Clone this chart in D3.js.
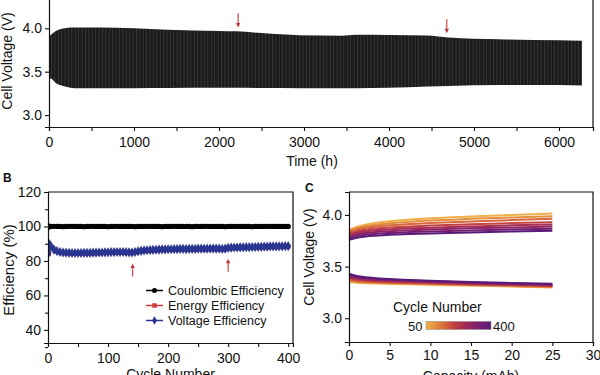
<!DOCTYPE html>
<html><head><meta charset="utf-8">
<script src="https://cdn.jsdelivr.net/npm/d3@7"></script>
<style>
body{margin:0;background:#fff}
svg{display:block}
text{font-family:"Liberation Sans",Arial,Helvetica,sans-serif;fill:#111}
</style>
</head><body>
<svg id="chart" width="600" height="375"></svg>
<script>
// ---------- Panel A: cell voltage vs time (envelope of the cycling band) ----------
const timeH   = [0, 15, 40, 80, 130, 200, 300, 600, 1000, 1400, 2000, 2200, 2500, 2950, 3450, 3600, 4000, 4450, 4700, 5300, 6000, 6270];
const vUpper  = [3.95, 3.92, 3.94, 3.97, 3.99, 4.005, 4.01, 4.01, 4.0, 3.985, 3.97, 3.965, 3.945, 3.92, 3.915, 3.925, 3.923, 3.918, 3.895, 3.875, 3.862, 3.857];
const vLower  = [3.36, 3.42, 3.41, 3.37, 3.345, 3.325, 3.31, 3.31, 3.31, 3.312, 3.315, 3.315, 3.312, 3.31, 3.31, 3.31, 3.315, 3.33, 3.335, 3.345, 3.345, 3.34];
const arrowsA = [2225, 4680];
const ticksAx = [0, 1000, 2000, 3000, 4000, 5000, 6000];
const ticksAy = [3.0, 3.5, 4.0];

// ---------- Panel B: efficiencies vs cycle number ----------
const cycles = [1,2,3,5,10,15,20,25,30,35,40,45,50,55,60,65,70,75,80,85,90,95,100,105,110,115,120,125,130,135,140,145,150,155,160,165,170,175,180,185,190,195,200,205,210,215,220,225,230,235,240,245,250,255,260,265,270,275,280,285,290,295,300,305,310,315,320,325,330,335,340,345,350,355,360,365,370,375,380,385,390,395,400];
const coulombicEff = [99.6,100.1,100.0,100.0,100.1,100.0,100.0,99.9,100.0,100.0,100.1,100.0,100.0,100.0,99.9,100.0,100.0,100.1,100.0,100.0,100.0,100.0,99.9,100.0,100.0,100.1,100.0,100.0,100.0,100.0,100.0,99.9,100.0,100.0,100.0,100.1,100.0,100.0,100.0,100.0,99.9,100.0,100.0,100.0,100.1,100.0,100.0,100.0,100.0,100.0,99.9,100.0,100.0,100.0,100.0,100.1,100.0,100.0,100.0,100.0,100.0,99.9,100.0,100.0,100.0,100.1,100.0,100.0,100.0,100.0,99.9,100.0,100.0,100.0,100.0,100.1,100.0,100.0,100.0,100.0,100.0,100.0,100.0];
const energyEff = [84.2,89.5,89.0,88.2,86.4,85.5,85.0,84.7,84.6,84.5,84.4,84.4,84.4,84.4,84.5,84.5,84.5,84.6,84.6,84.7,84.7,84.8,84.8,84.9,84.9,85.0,85.0,85.0,84.9,84.8,84.7,85.0,85.4,85.7,85.9,86.0,86.1,86.2,86.3,86.4,86.5,86.5,86.6,86.6,86.7,86.7,86.8,86.8,86.7,86.8,86.8,86.8,86.9,86.9,86.9,86.9,87.0,87.0,87.0,86.9,86.8,86.9,87.4,87.5,87.6,87.6,87.7,87.7,87.8,87.8,87.9,87.9,88.0,88.0,88.1,88.1,88.2,88.2,88.2,88.3,88.3,88.4,88.4];
const voltageEff = [84.5,89.8,89.2,88.4,86.6,85.7,85.2,84.9,84.8,84.7,84.6,84.6,84.6,84.6,84.7,84.7,84.7,84.8,84.8,84.9,84.9,85.0,85.0,85.1,85.1,85.2,85.2,85.2,85.1,85.0,84.9,85.2,85.6,85.9,86.1,86.2,86.3,86.4,86.5,86.6,86.7,86.7,86.8,86.8,86.9,86.9,87.0,87.0,86.9,87.0,87.0,87.0,87.1,87.1,87.1,87.1,87.2,87.2,87.2,87.1,87.0,87.1,87.6,87.7,87.8,87.8,87.9,87.9,88.0,88.0,88.1,88.1,88.2,88.2,88.3,88.3,88.4,88.4,88.4,88.5,88.5,88.6,88.6];
const seriesNamesB = ["Coulombic Efficiency", "Energy Efficiency", "Voltage Efficiency"];
const arrowsB = [141, 300];
const ticksBx = [0, 100, 200, 300, 400];
const ticksBy = [40, 60, 80, 100, 120];

// ---------- Panel C: voltage profiles vs capacity ----------
const capacity = [0, 1, 2, 3, 5, 7.5, 10, 15, 20, 25];
const profileCycles = [50, 100, 150, 200, 250, 300, 350, 400];
const chargeV = [
  [3.855, 3.885, 3.905, 3.92, 3.94, 3.955, 3.968, 3.985, 4.0, 4.013],
  [3.845, 3.872, 3.89, 3.903, 3.92, 3.935, 3.946, 3.962, 3.976, 3.988],
  [3.835, 3.86, 3.875, 3.886, 3.9, 3.913, 3.922, 3.937, 3.95, 3.962],
  [3.82, 3.843, 3.856, 3.866, 3.878, 3.889, 3.897, 3.91, 3.921, 3.93],
  [3.805, 3.828, 3.84, 3.849, 3.86, 3.87, 3.877, 3.889, 3.899, 3.908],
  [3.79, 3.812, 3.824, 3.833, 3.843, 3.852, 3.859, 3.87, 3.879, 3.887],
  [3.775, 3.797, 3.808, 3.816, 3.826, 3.834, 3.84, 3.85, 3.859, 3.867],
  [3.76, 3.78, 3.79, 3.798, 3.807, 3.815, 3.821, 3.831, 3.84, 3.848]
];
const dischargeV = [
  [3.35, 3.343, 3.339, 3.336, 3.332, 3.328, 3.324, 3.316, 3.307, 3.298],
  [3.36, 3.351, 3.346, 3.343, 3.338, 3.333, 3.329, 3.32, 3.311, 3.303],
  [3.372, 3.36, 3.354, 3.35, 3.345, 3.339, 3.334, 3.325, 3.316, 3.308],
  [3.385, 3.37, 3.363, 3.358, 3.352, 3.346, 3.34, 3.33, 3.321, 3.313],
  [3.397, 3.38, 3.372, 3.366, 3.359, 3.352, 3.346, 3.335, 3.326, 3.318],
  [3.408, 3.39, 3.381, 3.374, 3.366, 3.358, 3.352, 3.34, 3.331, 3.323],
  [3.419, 3.399, 3.389, 3.382, 3.373, 3.365, 3.358, 3.346, 3.336, 3.328],
  [3.43, 3.408, 3.397, 3.39, 3.38, 3.371, 3.364, 3.351, 3.341, 3.333]
];
const colorStops = ["#efb04a", "#e0803a", "#c9473c", "#a42b58", "#7d1f6f", "#5a1a78"];
const ticksCx = [0, 5, 10, 15, 20, 25, 30];
const ticksCy = [3.0, 3.5, 4.0];

// =================== drawing ===================
const svg = d3.select("#chart");
const FONT = 14;
const defs = svg.append("defs");

function styleAxis(g){
  g.selectAll(".domain").attr("stroke", "#111").attr("stroke-width", 1.2);
  g.selectAll(".tick line").attr("stroke", "#111").attr("stroke-width", 1.1);
  g.selectAll(".tick text").attr("font-size", FONT).attr("fill", "#111")
    .attr("font-family", '"Liberation Sans",Arial,sans-serif');
}
function frame(x0, y0, x1, y1){
  svg.append("path")
    .attr("d", `M${x0},${y0}H${x1}V${y1}`)
    .attr("fill", "none").attr("stroke", "#111").attr("stroke-width", 1.2);
}
function arrow(x, yTail, yTip){
  const dir = yTip > yTail ? 1 : -1;
  svg.append("line").attr("x1", x).attr("x2", x).attr("y1", yTail).attr("y2", yTip - dir*3)
    .attr("stroke", "#c0393b").attr("stroke-width", 1.1);
  svg.append("path")
    .attr("d", `M${x-2.2},${yTip - dir*4.5}L${x+2.2},${yTip - dir*4.5}L${x},${yTip}Z`)
    .attr("fill", "#c0393b");
}

// ---------- Panel A ----------
{
  const L = 49, R = 593, T = -10, B = 127;
  const x = d3.scaleLinear().domain([0, 6400]).range([L, R]);
  const y = d3.scaleLinear().domain([2.862, 4.442]).range([B, T]);

  const pat = defs.append("pattern").attr("id", "stripes").attr("patternUnits", "userSpaceOnUse")
    .attr("width", 3.4).attr("height", 10);
  pat.append("rect").attr("width", 3.4).attr("height", 10).attr("fill", "#1b1b1b");
  pat.append("rect").attr("x", 0).attr("width", 0.7).attr("height", 10).attr("fill", "#3e3e3e");

  const data = timeH.map((t, i) => ({t, hi: vUpper[i], lo: vLower[i]}));
  svg.append("path").datum(data)
    .attr("d", d3.area().x(d => x(d.t)).y0(d => y(d.lo)).y1(d => y(d.hi)).curve(d3.curveMonotoneX))
    .attr("fill", "url(#stripes)");

  const gx = svg.append("g").attr("transform", `translate(0,${B})`)
    .call(d3.axisBottom(x).tickValues(ticksAx).tickFormat(d3.format("d")).tickSize(4).tickPadding(6));
  styleAxis(gx);
  const gxm = svg.append("g").attr("transform", `translate(0,${B})`)
    .call(d3.axisBottom(x).tickValues(ticksAx.map(v => v + 500).filter(v => v < 6400)).tickFormat("").tickSize(4));
  styleAxis(gxm); gxm.select(".domain").remove();
  const gy = svg.append("g").attr("transform", `translate(${L},0)`)
    .call(d3.axisLeft(y).tickValues(ticksAy).tickFormat(d3.format(".1f")).tickSize(4).tickPadding(3));
  styleAxis(gy);
  frame(L, T, R, B);

  svg.append("text").attr("x", 312).attr("y", 166).attr("text-anchor", "middle")
    .attr("font-size", FONT).text("Time (h)");
  svg.append("text").attr("transform", `translate(12,${61}) rotate(-90)`).attr("text-anchor", "middle")
    .attr("font-size", FONT).text("Cell Voltage (V)");

  const upAt = d3.scaleLinear().domain(timeH).range(vUpper);
  arrowsA.forEach(t => {
    const v = upAt(t);
    arrow(x(t), y(v) - 18, y(v) - 4);
  });
}

// ---------- Panel B ----------
{
  const L = 48, R = 293, T = 192, B = 343;
  const x = d3.scaleLinear().domain([0, 408]).range([L, R]);
  const y = d3.scaleLinear().domain([32.4, 120]).range([B, T]);

  svg.append("text").attr("x", 3).attr("y", 182).attr("font-size", 12).attr("font-weight", "bold").text("B");

  defs.append("clipPath").attr("id", "clipB").append("rect")
    .attr("x", L).attr("y", T).attr("width", R - L).attr("height", B - T);

  const series = [
    {name: seriesNamesB[0], vals: coulombicEff, color: "#000000", shape: d3.symbolCircle, size: 22, lw: 2},
    {name: seriesNamesB[1], vals: energyEff,    color: "#d23a3a", shape: d3.symbolSquare, size: 22, lw: 2.5},
    {name: seriesNamesB[2], vals: voltageEff,   color: "#2a3592", shape: d3.symbolDiamond, size: 30, lw: 3.5}
  ];
  const gPlot = svg.append("g").attr("clip-path", "url(#clipB)");
  series.forEach(s => {
    const pts = cycles.map((c, i) => ({c, v: s.vals[i]}));
    gPlot.append("path").datum(pts)
      .attr("d", d3.line().x(d => x(d.c)).y(d => y(d.v)))
      .attr("fill", "none").attr("stroke", s.color).attr("stroke-width", s.lw);
    gPlot.selectAll(null).data(pts).enter().append("path")
      .attr("transform", d => `translate(${x(d.c)},${y(d.v)})`)
      .attr("d", d3.symbol().type(s.shape).size(s.size))
      .attr("fill", s.color);
  });

  const gx = svg.append("g").attr("transform", `translate(0,${B})`)
    .call(d3.axisBottom(x).tickValues(ticksBx).tickSize(4).tickPadding(6));
  styleAxis(gx);
  const gxm = svg.append("g").attr("transform", `translate(0,${B})`)
    .call(d3.axisBottom(x).tickValues(ticksBx.map(v => v + 50).filter(v => v < 408)).tickFormat("").tickSize(4));
  styleAxis(gxm); gxm.select(".domain").remove();
  const gy = svg.append("g").attr("transform", `translate(${L},0)`)
    .call(d3.axisLeft(y).tickValues(ticksBy).tickSize(4).tickPadding(3));
  styleAxis(gy);
  const gym = svg.append("g").attr("transform", `translate(${L},0)`)
    .call(d3.axisLeft(y).tickValues(ticksBy.map(v => v - 10)).tickFormat("").tickSize(3));
  styleAxis(gym); gym.select(".domain").remove();
  frame(L, T, R, B);

  svg.append("text").attr("transform", `translate(14,${270}) rotate(-90)`).attr("text-anchor", "middle")
    .attr("font-size", 15).text("Efficiency (%)");
  svg.append("text").attr("x", (L + R) / 2).attr("y", 379).attr("text-anchor", "middle")
    .attr("font-size", FONT).text("Cycle Number");

  // legend
  const lg = svg.append("g");
  series.forEach((s, i) => {
    const yy = 290.5 + i * 15;
    lg.append("line").attr("x1", 146).attr("x2", 163).attr("y1", yy).attr("y2", yy)
      .attr("stroke", s.color).attr("stroke-width", 1.5);
    lg.append("path").attr("transform", `translate(154.5,${yy})`)
      .attr("d", d3.symbol().type(s.shape).size(20)).attr("fill", s.color);
    lg.append("text").attr("x", 168).attr("y", yy + 4.5).attr("font-size", 12.5).text(s.name);
  });

  const veAt = d3.scaleLinear().domain(cycles).range(voltageEff);
  arrowsB.forEach(c => {
    const v = veAt(c);
    arrow(x(c), y(v) + 24, y(v) + 11);
  });
}

// ---------- Panel C ----------
{
  const L = 349, R = 593, T = 192, B = 342;
  const x = d3.scaleLinear().domain([0, 30]).range([L, R]);
  const y = d3.scaleLinear().domain([2.77, 4.222]).range([B, T]);
  const cmap = d3.scaleLinear()
    .domain(d3.range(colorStops.length).map(i => 50 + i * 350 / (colorStops.length - 1)))
    .range(colorStops).interpolate(d3.interpolateRgb);

  svg.append("text").attr("x", 305).attr("y", 192).attr("font-size", 12).attr("font-weight", "bold").text("C");

  const line = d3.line().x(d => x(d[0])).y(d => y(d[1])).curve(d3.curveMonotoneX);
  profileCycles.forEach((c, k) => {
    svg.append("path").datum(capacity.map((q, i) => [q, chargeV[k][i]]))
      .attr("d", line).attr("fill", "none").attr("stroke", cmap(c)).attr("stroke-width", 2);
  });
  profileCycles.forEach((c, k) => {
    svg.append("path").datum(capacity.map((q, i) => [q, dischargeV[k][i]]))
      .attr("d", line).attr("fill", "none").attr("stroke", cmap(c)).attr("stroke-width", 2);
  });

  const gx = svg.append("g").attr("transform", `translate(0,${B})`)
    .call(d3.axisBottom(x).tickValues(ticksCx).tickSize(4).tickPadding(4));
  styleAxis(gx);
  const gy = svg.append("g").attr("transform", `translate(${L},0)`)
    .call(d3.axisLeft(y).tickValues(ticksCy).tickFormat(d3.format(".1f")).tickSize(4).tickPadding(3));
  styleAxis(gy);
  frame(L, T, R, B);

  svg.append("text").attr("transform", `translate(314,${257}) rotate(-90)`).attr("text-anchor", "middle")
    .attr("font-size", FONT).text("Cell Voltage (V)");
  svg.append("text").attr("x", (L + R) / 2).attr("y", 381).attr("text-anchor", "middle")
    .attr("font-size", FONT).text("Capacity (mAh)");

  // colorbar
  const grad = defs.append("linearGradient").attr("id", "cbar");
  colorStops.forEach((c, i) => grad.append("stop")
    .attr("offset", (i / (colorStops.length - 1) * 100) + "%").attr("stop-color", c));
  svg.append("rect").attr("x", 426).attr("y", 321.5).attr("width", 65).attr("height", 8)
    .attr("fill", "url(#cbar)").attr("stroke", "#888").attr("stroke-width", 0.5);
  svg.append("text").attr("x", 393).attr("y", 312).attr("font-size", 14).text("Cycle Number");
  svg.append("text").attr("x", 422.5).attr("y", 330.5).attr("text-anchor", "end").attr("font-size", 13)
    .text(profileCycles[0]);
  svg.append("text").attr("x", 493).attr("y", 330.5).attr("font-size", 13)
    .text(profileCycles[profileCycles.length - 1]);
}
</script>
</body></html>
